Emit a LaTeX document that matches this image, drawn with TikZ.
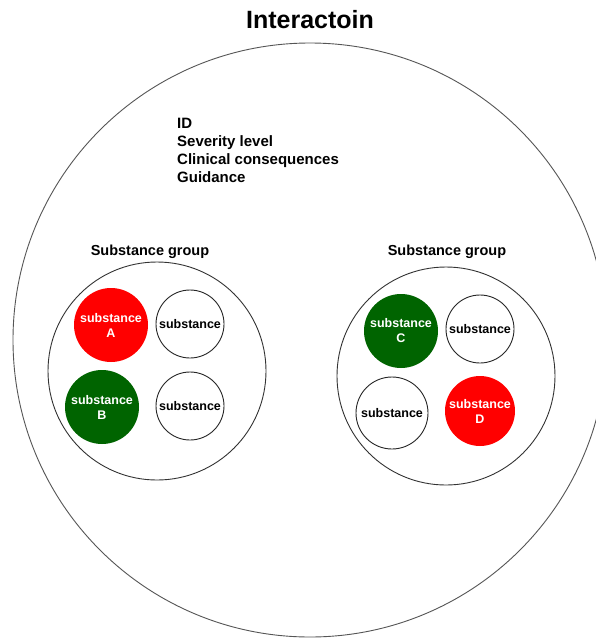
\documentclass[tikz,border=0pt]{standalone}
\usepackage{fontspec}
\setmainfont{Liberation Sans}
\definecolor{subRed}{HTML}{FF0000}
\definecolor{subGreen}{HTML}{006400}
\definecolor{lineGrey}{HTML}{555555}
\begin{document}
\begin{tikzpicture}[x=1pt,y=-1pt,
  txt/.style={inner sep=0pt, font=\fontsize{15}{18}\selectfont\bfseries},
  grp/.style={circle, draw=black!80, line width=0.9pt, minimum size=218pt, inner sep=0pt},
  sub/.style={circle, draw=black!85, line width=0.9pt, minimum size=68pt, inner sep=0pt, align=center, font=\fontsize{12.5}{15}\selectfont\bfseries},
  subcol/.style={circle, draw=none, minimum size=74pt, inner sep=0pt, align=center, text=white, font=\fontsize{12.5}{15}\selectfont\bfseries}
]
\useasboundingbox (0,0) rectangle (596,638);
\clip (0,0) rectangle (596,638);
\fill[white] (0,0) rectangle (596,638);

\node[circle, draw=lineGrey, line width=0.9pt, minimum size=594pt, inner sep=0pt] (outer) at (310,340) {};
\node[anchor=base, inner sep=0pt, font=\fontsize{25}{30}\selectfont\bfseries] (title) at (310,28) {Interactoin};

\node[txt, anchor=base west] (l1) at (177,128) {ID};
\node[txt, anchor=base west] (l2) at (177,146) {Severity level};
\node[txt, anchor=base west] (l3) at (177,164) {Clinical consequences};
\node[txt, anchor=base west] (l4) at (177,182) {Guidance};

\node[txt, anchor=base, font=\fontsize{14.5}{17}\selectfont\bfseries] (g1label) at (150,255) {Substance group};
\node[txt, anchor=base, font=\fontsize{14.5}{17}\selectfont\bfseries] (g2label) at (447,255) {Substance group};

\node[grp] (g1) at (157,371) {};
\node[grp] (g2) at (446,376) {};

\node[subcol, fill=subRed] (sA) at (111,325) {substance\\A};
\node[sub] (s1) at (190,324) {substance};
\node[subcol, fill=subGreen] (sB) at (102,407) {substance\\B};
\node[sub] (s2) at (190,406) {substance};

\node[subcol, fill=subGreen] (sC) at (401,331) {substance\\C};
\node[sub] (s3) at (480,329) {substance};
\node[sub, minimum size=72pt] (s4) at (392,413) {substance};
\node[subcol, fill=subRed, minimum size=70pt] (sD) at (480,411) {substance\\D};
\end{tikzpicture}
\end{document}
